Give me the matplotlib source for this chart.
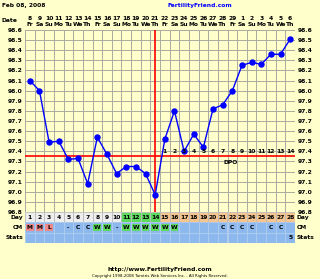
import matplotlib.pyplot as plt
from matplotlib.patches import Rectangle
import numpy as np

# donnees du cycle
jours = list(range(1, 29))
temps = [98.10, 98.00, 97.49, 97.50, 97.32, 97.33, 97.08, 97.54, 97.37, 97.18,
         97.25, 97.25, 97.18, 96.97, 97.52, 97.80, 97.40, 97.57, 97.44, 97.82,
         97.86, 98.00, 98.25, 98.28, 98.26, 98.36, 98.36, 98.51]
dates = [8, 9, 10, 11, 12, 13, 14, 15, 16, 17, 18, 19, 20, 21, 22, 23, 24, 25,
         26, 27, 28, 29, 1, 2, 3, 4, 5, 6]
semaine = ["Fr", "Sa", "Su", "Mo", "Tu", "We", "Th"]
cm = ["M", "M", "L", "", "-", "C", "C", "W", "W", "-", "W", "W", "W", "W",
      "W", "W", "", "", "", "", "C", "C", "C", "C", "", "C", "C", ""]
stats = [""] * 27 + ["5"]
coverline = 97.35
ovulation = 14
dpo = list(range(1, 15))

fond = "#FFFFCC"
bleu_cm = "#8DB8EE"
vert = "#5EDB5E"
rouge_cm = "#F08A8A"
peche = "#F6C48E"
gris_j = "#EEEEEE"

W, H = 320, 279
fig = plt.figure(figsize=(W / 100, H / 100), dpi=100, facecolor=fond)
fs = 4.3
fnt = dict(fontsize=fs, fontweight="bold", family="DejaVu Sans")

ax = fig.add_axes([25 / W, (H - 212) / H, 270 / W, 182 / H], facecolor=fond)
ax.set_xlim(0.5, 28.5)
ax.set_ylim(96.8, 98.6)
yt = np.round(np.arange(96.8, 98.61, 0.1), 1)
ax.set_yticks(yt)
ax.set_yticklabels(["%.1f" % v for v in yt], **fnt)
ax.set_xticks(jours)
ax.set_xticklabels(["%d\n%s" % (d, semaine[i % 7]) for i, d in enumerate(dates)],
                   linespacing=1.3, **fnt)
ax.tick_params(axis="both", length=0, pad=2, labelleft=True, labelright=True,
               labeltop=True, labelbottom=False)
for v in np.arange(0.5, 28.6, 1):
    ax.axvline(v, color="#AAAAA0", lw=0.7, zorder=0)
for v in yt:
    ax.axhline(v, color="#AAAAA0", lw=0.7, zorder=0)
for s in ax.spines.values():
    s.set_visible(False)

ax.axhline(coverline, color="red", lw=1.2, zorder=2)
ax.axvline(ovulation, color="red", lw=1.2, zorder=2)
ax.plot(jours, temps, color="#0000FF", lw=1, marker="o", ms=3.6, zorder=3)
for i, n in enumerate(dpo):
    ax.text(ovulation + 1 + i, coverline + 0.045, str(n), ha="center", va="center",
            zorder=4, **fnt)
ax.text(21.8, coverline - 0.06, "DPO", ha="center", va="center", **fnt)

# tableau du bas
at = fig.add_axes([25 / W, (H - 243) / H, 270 / W, 31 / H])
at.set_xlim(0.5, 28.5)
at.set_ylim(0, 3)
at.axis("off")
for i, j in enumerate(jours):
    c = gris_j if j <= 10 else (vert if j <= 14 else peche)
    at.add_patch(Rectangle((j - 0.5, 2), 1, 1, fc=c, ec="#BBBBBB", lw=0.6))
    at.text(j, 2.5, str(j), ha="center", va="center", **fnt)
    at.add_patch(Rectangle((j - 0.5, 1), 1, 1, fc=bleu_cm, ec="#AFCBEF", lw=0.6))
    if cm[i] in ("M", "L"):
        at.add_patch(Rectangle((j - 0.4, 1.15), 0.8, 0.7, fc=rouge_cm, ec="none"))
    elif cm[i] == "W":
        at.add_patch(Rectangle((j - 0.4, 1.15), 0.8, 0.7, fc=vert, ec="none"))
    at.text(j, 1.5, cm[i], ha="center", va="center", **fnt)
    at.add_patch(Rectangle((j - 0.5, 0), 1, 1, fc=bleu_cm, ec="#AFCBEF", lw=0.6))
    at.text(j, 0.5, stats[i], ha="center", va="center", **fnt)
for k, lab in enumerate(["Day", "CM", "Stats"]):
    at.text(0.3, 2.5 - k, lab, ha="right", va="center", **fnt)
    at.text(28.7, 2.5 - k, lab, ha="left", va="center", **fnt)

fig.text(2 / W, 1 - 5 / H, "Feb 08, 2008", ha="left", va="center", **fnt)
fig.text(200 / W, 1 - 5 / H, "FertilityFriend.com", ha="center", va="center",
         color="#0000FF", **fnt)
fig.text(2 / W, 1 - 21 / H, "Date", ha="left", va="center", **fnt)
fig.text(160 / W, 1 - 269 / H, "http://www.FertilityFriend.com", ha="center",
         va="center", **fnt)
fig.text(160 / W, 1 - 276 / H,
         "Copyright 1998-2008 Tamtris Web Services Inc. - All Rights Reserved.",
         ha="center", va="center", fontsize=2.8, family="DejaVu Sans")

fig.savefig("out.png", dpi=100, facecolor=fond)
